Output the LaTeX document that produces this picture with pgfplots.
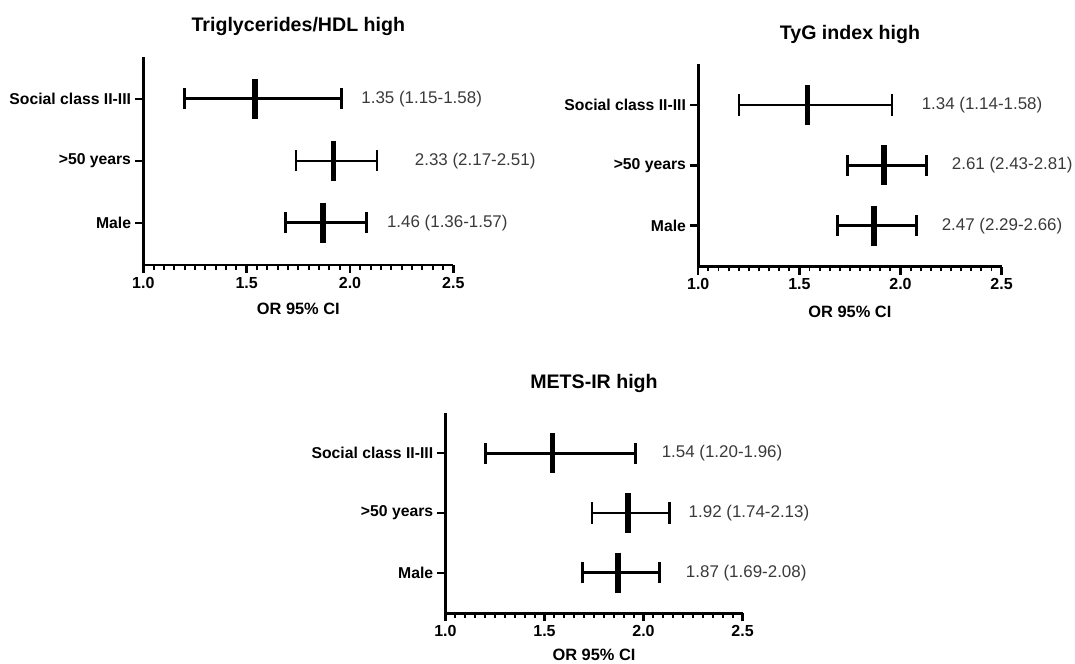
\documentclass[border=0pt]{standalone}
\usepackage{fontspec}
\setmainfont{Liberation Sans}
\usepackage{pgfplots}
\pgfplotsset{compat=1.18}
\definecolor{valgray}{HTML}{3A3A3A}
\pgfplotsset{
  forest/.style={
    scale only axis,
    anchor=south west,
    axis lines=left,
    axis line style={-, line width=1.9pt},
    xmin=1, xmax=2.5, ymin=0.32, ymax=3.68,
    xtick={1,1.5,2,2.5},
    xticklabels={1.0,1.5,2.0,2.5},
    minor x tick num=9,
    ytick={1,2,3},
    yticklabels={Male,{>50 years},{Social class II-III}},
    tick align=outside,
    major tick length=6pt, minor tick length=3.5pt,
    every major tick/.style={black, line width=1.8pt},
    every minor tick/.style={black, line width=1.4pt},
    tick label style={font=\fontsize{12}{14}\selectfont\bfseries},
    yticklabel style={font=\fontsize{11.8}{13}\selectfont\bfseries, xshift=0.3pt},
    xticklabel style={yshift=0.5pt},
    title style={font=\fontsize{14.7}{17}\selectfont\bfseries, anchor=center, at={(0.5,1)}},
    xlabel={OR 95\% CI},
    xlabel style={font=\fontsize{12.3}{14}\selectfont\bfseries, anchor=center, at={(0.5,0)}, yshift=-33pt},
    /pgf/number format/assume math mode=true,
    clip=false,
  },
  ci/.style={only marks, black, mark=|, mark size=15pt, mark options={line width=4.3pt},
    error bars/.cd, x dir=both, x explicit,
    error mark=|,
    error bar style={line width=#1},
    error mark options={line width=#1, mark size=7.9pt}},
}
\tikzset{val/.style={anchor=west, inner sep=0pt, text=valgray, font=\fontsize{12.7}{15}\selectfont}}
\begin{document}
\begin{tikzpicture}
\path[use as bounding box] (0,0) rectangle (806.25pt,498pt);
% Panel 1
\begin{axis}[forest, at={(107.5pt,299.25pt)}, width=232.5pt, height=156.25pt,
  title={Triglycerides/HDL high}, title style={yshift=17pt}]
\addplot+[ci=2.3pt] coordinates {(1.54,3) += (0.42,0) -= (0.34,0)};
\addplot+[ci=1.5pt] coordinates {(1.92,2) += (0.21,0) -= (0.18,0)};
\addplot+[ci=2.3pt] coordinates {(1.87,1) += (0.21,0) -= (0.18,0)};
\node[val] at (axis cs:2.054,3) {1.35 (1.15-1.58)};
\node[val] at (axis cs:2.313,2) {2.33 (2.17-2.51)};
\node[val] at (axis cs:2.178,1) {1.46 (1.36-1.57)};
\end{axis}
% Panel 2
\begin{axis}[forest, at={(523.7pt,298pt)}, width=227.5pt, height=152pt,
  title={TyG index high}, title style={yshift=16pt}, xlabel style={yshift=-0.8pt}]
\addplot+[ci=1.5pt] coordinates {(1.54,3) += (0.42,0) -= (0.34,0)};
\addplot+[ci=2.3pt] coordinates {(1.92,2) += (0.21,0) -= (0.18,0)};
\addplot+[ci=2.1pt] coordinates {(1.87,1) += (0.21,0) -= (0.18,0)};
\node[val] at (axis cs:2.104,3) {1.34 (1.14-1.58)};
\node[val] at (axis cs:2.253,2) {2.61 (2.43-2.81)};
\node[val] at (axis cs:2.203,1) {2.47 (2.29-2.66)};
\end{axis}
% Panel 3
\begin{axis}[forest, at={(334.1pt,38pt)}, width=222.8pt, height=150.5pt,
  title={METS-IR high}, title style={yshift=16pt}, xlabel style={yshift=1.5pt}]
\addplot+[ci=2.3pt] coordinates {(1.54,3) += (0.42,0) -= (0.34,0)};
\addplot+[ci=1.9pt] coordinates {(1.92,2) += (0.21,0) -= (0.18,0)};
\addplot+[ci=2.3pt] coordinates {(1.87,1) += (0.21,0) -= (0.18,0)};
\node[val] at (axis cs:2.091,3) {1.54 (1.20-1.96)};
\node[val] at (axis cs:2.227,2) {1.92 (1.74-2.13)};
\node[val] at (axis cs:2.213,1) {1.87 (1.69-2.08)};
\end{axis}
\end{tikzpicture}
\end{document}
